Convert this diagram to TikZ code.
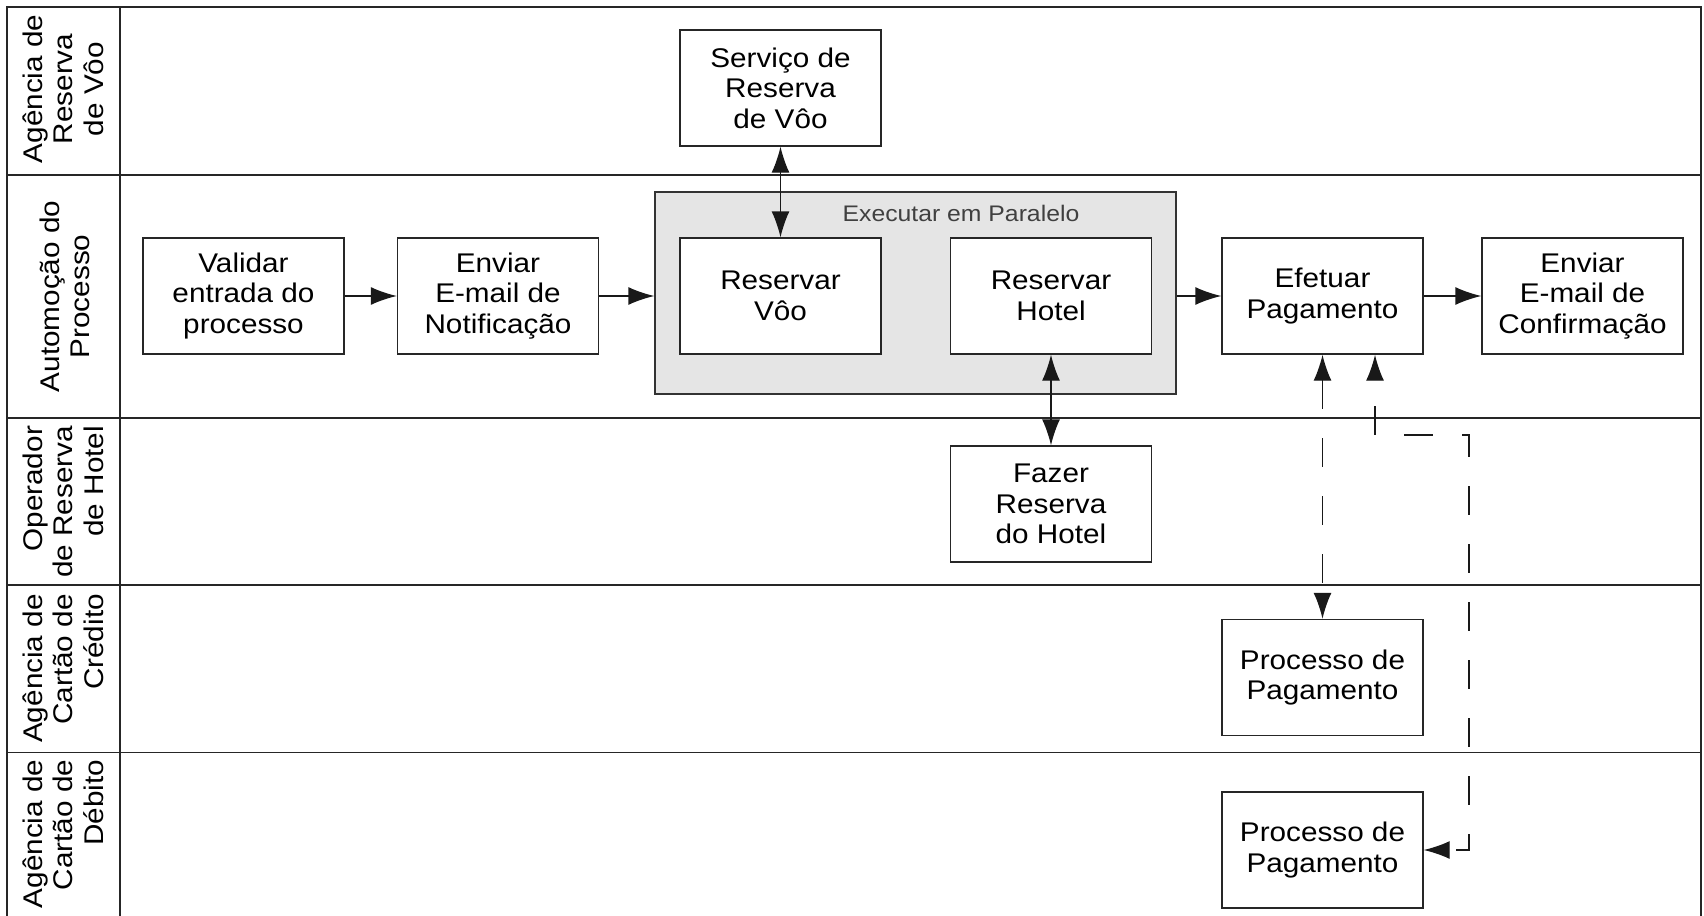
\documentclass[tikz,border=0pt]{standalone}
\usepackage{fontspec}
\setmainfont[FakeStretch=1.1]{Liberation Sans}
\usetikzlibrary{arrows.meta}

\begin{document}
\begin{tikzpicture}[x=1pt,y=-1pt,
  >={Latex[length=26pt,width=18pt]},
  every node/.style={font=\fontsize{27}{30.5}\selectfont, text=black, inner sep=0pt},
  taskbox/.style={draw=black!85, line width=1.4pt, fill=white,
    minimum width=201pt, minimum height=116pt, align=center},
  groupbox/.style={draw=black!80, line width=1.4pt, fill=black!10,
    minimum width=521pt, minimum height=202pt},
  grouptitle/.style={font=\fontsize{22.5}{26}\selectfont, text=black!75},
  lanelabel/.style={rotate=90},
  laneline/.style={draw=black!85, line width=1.6pt},
  flow/.style={draw=black!90, line width=1.4pt, ->},
  both/.style={draw=black!90, line width=1.4pt, <->},
  dashflow/.style={draw=black!90, line width=1.4pt, <->, dash pattern=on 29pt off 29pt}
]
\useasboundingbox (0,0) rectangle (1704,915);

% pool frame, header column and lane separators
\draw[laneline] (7,925) -- (7,7) -- (1701,7) -- (1701,925);
\draw[laneline] (120,7) -- (120,925);
\foreach \y in {175,418,585,752.5}
  \draw[laneline] (7,\y) -- (1701,\y);

% lane titles
\node[lanelabel, align=center] (l1) at (63,89) {Agência de\\Reserva\\de Vôo};
\node[lanelabel, align=center] (l2) at (65,296.5) {Automoção do\\Processo};
\node[lanelabel, align=right] (l3) at (63,502) {Operador\\de Reserva\\de Hotel};
\node[lanelabel, align=right] (l4) at (63,668.5) {Agência de\\Cartão de\\Crédito};
\node[lanelabel, align=right] (l5) at (63,834) {Agência de\\Cartão de\\Débito};

% parallel block
\node[groupbox] (par) at (915.5,293) {};
\node[grouptitle] (partitle) at (961,213) {Executar em Paralelo};

% activities
\node[taskbox] (serv)  at (780.5,88)   {Serviço de\\Reserva\\de Vôo};
\node[taskbox] (voo)   at (780.5,296)  {Reservar\\Vôo};
\node[taskbox] (hotel) at (1051,296)   {Reservar\\Hotel};
\node[taskbox] (valid) at (243.5,296)  {Validar\\entrada do\\processo};
\node[taskbox] (notif) at (498,296)    {Enviar\\E-mail de\\Notificação};
\node[taskbox] (pag)   at (1322.5,296) {Efetuar\\Pagamento};
\node[taskbox] (conf)  at (1582.5,296) {Enviar\\E-mail de\\Confirmação};
\node[taskbox] (fazer) at (1051,504)   {Fazer\\Reserva\\do Hotel};
\node[taskbox] (cred)  at (1322.5,677.5) {Processo de\\Pagamento};
\node[taskbox] (deb)   at (1322.5,850) {Processo de\\Pagamento};

% sequence flow
\draw[flow] (valid) -- (notif);
\draw[flow] (notif.east) -- (notif.east -| par.west);
\draw[flow] (par.east |- pag) -- (pag.west);
\draw[flow] (pag) -- (conf);

% exchanges with other lanes
\draw[both] (serv) -- (voo);
\draw[both] (hotel) -- (fazer);

% payment alternatives
\draw[dashflow] (pag.south) -- (cred.north);
\coordinate (d1) at (1375,435);
\coordinate (d2) at (1469,435);
\coordinate (d3) at (1469,850);
\draw[dashflow, dash phase=32pt] ([xshift=52.5pt]pag.south) -- (d1) -- (d2) -- (d3) -- (deb.east);
\end{tikzpicture}
\end{document}
